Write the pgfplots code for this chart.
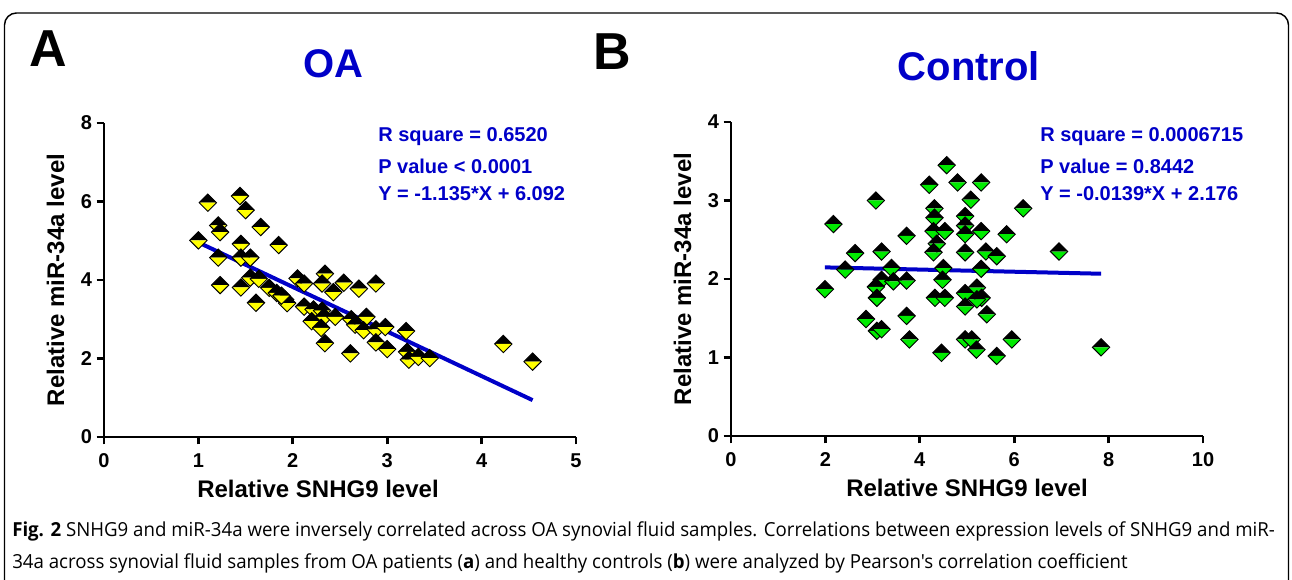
\documentclass[border=0pt]{standalone}
\usepackage{pgfplots}
\pgfplotsset{compat=1.18}
\usepackage{graphicx}
\usepackage{fontspec}
\setmainfont{Liberation Sans}
\newfontfamily\capfont{Open Sans}

\definecolor{gpblue}{RGB}{0,0,200}
\definecolor{gpyellow}{RGB}{255,255,0}
\definecolor{gpgreen}{RGB}{0,235,0}

% GraphPad-like half-filled diamond: top half black, bottom half coloured
\newcommand\halfdiamond[2]{%
\pgfdeclareplotmark{#1}{%
  \pgfpathmoveto{\pgfqpoint{-\pgfplotmarksize}{0pt}}%
  \pgfpathlineto{\pgfqpoint{0pt}{\pgfplotmarksize}}%
  \pgfpathlineto{\pgfqpoint{\pgfplotmarksize}{0pt}}%
  \pgfpathclose
  \pgfsetfillcolor{black}\pgfusepath{fill}%
  \pgfpathmoveto{\pgfqpoint{-\pgfplotmarksize}{0pt}}%
  \pgfpathlineto{\pgfqpoint{0pt}{-\pgfplotmarksize}}%
  \pgfpathlineto{\pgfqpoint{\pgfplotmarksize}{0pt}}%
  \pgfpathclose
  \pgfsetfillcolor{#2}\pgfusepath{fill}%
  \pgfpathmoveto{\pgfqpoint{-\pgfplotmarksize}{0pt}}%
  \pgfpathlineto{\pgfqpoint{0pt}{\pgfplotmarksize}}%
  \pgfpathlineto{\pgfqpoint{\pgfplotmarksize}{0pt}}%
  \pgfpathlineto{\pgfqpoint{0pt}{-\pgfplotmarksize}}%
  \pgfpathclose
  \pgfsetstrokecolor{black}\pgfusepath{stroke}}}
\halfdiamond{hdY}{gpyellow}
\halfdiamond{hdG}{gpgreen}

\pgfplotsset{
  gp/.style={
    scale only axis, width=354pt, height=235.5pt,
    anchor=south west, clip=false,
    axis lines*=left,
    axis line style={line width=2pt, black},
    tick align=outside, major tick length=5.5pt,
    tick style={line width=2pt, black},
    /pgf/number format/assume math mode=true,
    ticklabel style={font=\fontsize{15}{16}\selectfont\bfseries},
    xticklabel style={yshift=-3.5pt},
    label style={font=\fontsize{18}{20}\selectfont\bfseries},
    xlabel style={yshift=-2pt},
    ylabel style={yshift=5.5pt},
    xlabel={Relative SNHG9 level},
    ylabel={Relative miR-34a level},
  },
  pts/.style={only marks, mark size=6.5pt, mark options={line width=0.7pt}},
  fit/.style={no marks, gpblue, line width=3pt},
}

\begin{document}
\begin{tikzpicture}
\useasboundingbox (0,0) rectangle (969pt,435pt);
\clip (0,0) rectangle (969pt,435pt);

\begin{scope}[x=0.75pt, y=0.75pt]
% frame
\draw[line width=1.1pt, rounded corners=9pt] (4.5,-20) -- (4.5,567) -- (1288.5,567) -- (1288.5,-20);

% panel letters and titles
\node[font=\fontsize{39}{40}\selectfont\bfseries] at (48,531) {A};
\node[font=\fontsize{39}{40}\selectfont\bfseries] at (612,528) {B};
\node[font=\fontsize{30}{32}\selectfont\bfseries, text=gpblue] at (333,516) {OA};
\node[font=\fontsize{30}{32}\selectfont\bfseries, text=gpblue] at (969,514) {Control};

% statistics
\begin{scope}[every node/.style={anchor=west, inner sep=0pt, text=gpblue, font=\fontsize{15}{16}\selectfont\bfseries}]
\node at (378,443) {R square = 0.6520};
\node at (378,414) {P value < 0.0001};
\node at (378,386) {Y = -1.135*X + 6.092};
\node at (1040,443) {R square = 0.0006715};
\node at (1040,414) {P value = 0.8442};
\node at (1040,386) {Y = -0.0139*X + 2.176};
\end{scope}

% caption
\node[anchor=west, inner sep=0pt] at (12,34) {\resizebox{947pt}{\height}{\capfont\fontsize{14.5}{24}\selectfont
\begin{tabular}{@{}l@{}}
\textbf{Fig. 2} SNHG9 and miR-34a were inversely correlated across OA synovial fluid samples. Correlations between expression levels of SNHG9 and miR-\\
34a across synovial fluid samples from OA patients (\textbf{a}) and healthy controls (\textbf{b}) were analyzed by Pearson's correlation coefficient
\end{tabular}}};
\end{scope}

% panel A
\begin{axis}[gp, at={(78pt,107.25pt)},
  xmin=0, xmax=5, ymin=0, ymax=8,
  xtick={0,1,2,3,4,5}, ytick={0,2,4,6,8},
  xlabel style={xshift=-16.5pt}]
\addplot[pts, mark=hdY] coordinates {
(1.00,5.01)(1.10,5.97)(1.21,5.39)(1.23,5.22)(1.21,4.57)(1.23,3.87)
(1.44,6.14)(1.50,5.78)(1.45,4.92)(1.45,4.57)(1.55,4.57)(1.45,3.81)
(1.66,5.35)(1.55,4.06)(1.64,4.03)(1.61,3.42)(1.75,3.80)(1.83,3.67)
(1.85,4.89)(1.92,3.50)(1.94,3.41)(1.88,3.60)(2.05,4.04)(2.12,3.91)
(2.34,4.16)(2.31,3.91)(2.54,3.93)(2.43,3.69)(2.70,3.78)(2.88,3.91)
(2.12,3.32)(2.22,3.25)(2.31,3.22)(2.33,3.06)(2.45,3.06)(2.20,2.95)
(2.30,2.78)(2.62,3.00)(2.78,3.06)(2.66,2.86)(2.75,2.72)(2.88,2.74)
(2.98,2.80)(3.20,2.70)(2.34,2.39)(2.61,2.13)(2.88,2.41)(3.00,2.24)
(3.21,2.17)(3.23,1.97)(3.33,2.04)(3.45,2.01)(4.23,2.37)(4.54,1.92)
};
\addplot[fit] coordinates {(1.00,4.957)(4.54,0.939)};
\end{axis}

% panel B
\begin{axis}[gp, at={(548.25pt,108pt)},
  xmin=0, xmax=10, ymin=0, ymax=4,
  xtick={0,2,4,6,8,10}, ytick={0,1,2,3,4}]
\addplot[pts, mark=hdG] coordinates {
(4.57,3.45)(4.20,3.20)(4.80,3.23)(5.30,3.23)(5.08,3.01)(3.07,3.00)
(4.31,2.90)(4.31,2.78)(4.96,2.80)(4.96,2.68)(2.17,2.70)(4.29,2.61)
(4.53,2.61)(5.30,2.61)(4.96,2.57)(3.72,2.55)(5.84,2.57)(4.36,2.45)
(2.63,2.33)(3.19,2.35)(4.29,2.34)(4.96,2.34)(5.40,2.35)(5.63,2.29)
(2.42,2.12)(3.40,2.14)(4.50,2.14)(5.30,2.13)(1.99,1.87)(3.19,1.99)
(3.44,1.97)(3.72,1.98)(3.07,1.90)(3.09,1.76)(4.48,1.99)(4.32,1.76)
(4.53,1.76)(4.96,1.82)(5.21,1.89)(5.31,1.76)(4.96,1.65)(5.21,1.74)
(2.86,1.49)(3.72,1.53)(5.42,1.55)(3.09,1.34)(3.19,1.36)(3.78,1.23)
(4.96,1.23)(5.10,1.23)(5.20,1.10)(4.46,1.06)(5.63,1.02)(5.95,1.23)
(6.95,2.35)(7.84,1.13)(6.19,2.90)
};
\addplot[fit] coordinates {(1.99,2.148)(7.84,2.067)};
\end{axis}
\end{tikzpicture}
\end{document}
